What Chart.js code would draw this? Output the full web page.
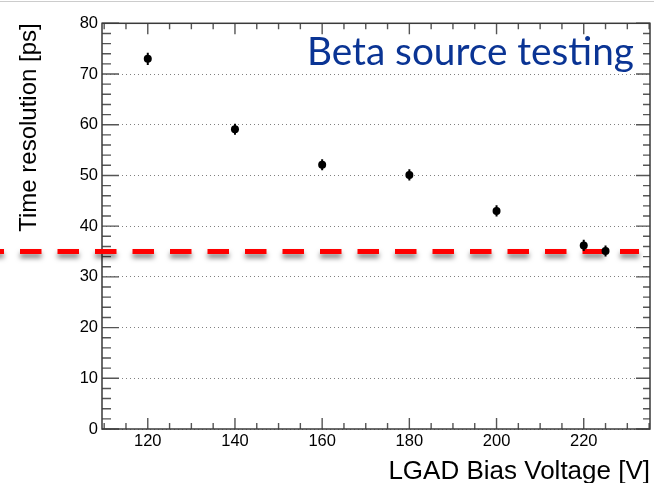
<!DOCTYPE html>
<html><head><meta charset="utf-8">
<script src="https://cdn.jsdelivr.net/npm/chart.js@4/dist/chart.umd.min.js"></script>
<style>html,body{margin:0;padding:0;background:#fff;} #wrap{width:654px;height:483px;position:relative;}</style>
</head><body><div id="wrap"><canvas id="c" width="654" height="483"></canvas></div>
<script>
// ---- data ----
const biasVoltages = [120, 140, 160, 180, 200, 220, 225];
const timeResolution = [73.0, 59.1, 52.1, 50.1, 43.0, 36.2, 35.1];
const resolutionErrors = [1.2, 1.1, 1.1, 1.1, 1.1, 1.1, 1.1];
const xTickLabels = [120, 140, 160, 180, 200, 220];
const yTickLabels = [0, 10, 20, 30, 40, 50, 60, 70, 80];
const targetResolution = 35;
const annotationText = 'Beta source testing';
const xAxisTitle = 'LGAD Bias Voltage [V]';
const yAxisTitle = 'Time resolution [ps]';

const FONT = '"Liberation Sans", Arial, Helvetica, sans-serif';

const rootStyle = {
  id: 'rootStyle',
  beforeDraw(chart) {
    const ctx = chart.ctx;
    ctx.save();
    ctx.fillStyle = '#fff';
    ctx.fillRect(0, 0, chart.width, chart.height);
    ctx.fillStyle = '#cccccc';
    ctx.fillRect(0, 1, chart.width, 1);
    ctx.restore();
  },
  beforeDatasetsDraw(chart) {
    const ctx = chart.ctx;
    const xs = chart.scales.x, ys = chart.scales.y;
    const {left, right, top, bottom} = chart.chartArea;
    ctx.save();
    // ticks
    ctx.strokeStyle = '#555';
    ctx.lineWidth = 1.4;
    ctx.beginPath();
    for (let v = Math.ceil(ys.min); v <= ys.max; v += 2) {
      const y = ys.getPixelForValue(v);
      const major = v % 10 === 0;
      ctx.moveTo(left, y); ctx.lineTo(left + (major ? 17 : 9), y);
      ctx.moveTo(right, y); ctx.lineTo(right - (major ? 14 : 7), y);
    }
    for (let v = Math.ceil(xs.min / 5) * 5; v <= xs.max; v += 5) {
      const x = xs.getPixelForValue(v);
      const major = v % 20 === 0;
      ctx.moveTo(x, bottom); ctx.lineTo(x, bottom - (major ? 11 : 6));
      ctx.moveTo(x, top); ctx.lineTo(x, top + (major ? 11 : 6));
    }
    ctx.stroke();
    // frame
    ctx.strokeStyle = '#3a3a3a';
    ctx.lineWidth = 1.5;
    ctx.strokeRect(left, top, right - left, bottom - top);
    ctx.restore();

    // red target line with shadow
    const yT = ys.getPixelForValue(targetResolution);
    ctx.save();
    ctx.strokeStyle = '#ff0000';
    ctx.lineWidth = 5;
    ctx.setLineDash([21.5, 16]);
    ctx.shadowColor = 'rgba(0,0,0,0.5)';
    ctx.shadowBlur = 5;
    ctx.shadowOffsetY = 4;
    ctx.beginPath();
    ctx.moveTo(-17.5, yT);
    ctx.lineTo(right - 11, yT);
    ctx.stroke();
    ctx.restore();

    // error bars
    ctx.save();
    ctx.strokeStyle = '#000';
    ctx.lineWidth = 2;
    ctx.beginPath();
    biasVoltages.forEach((v, i) => {
      const x = xs.getPixelForValue(v);
      ctx.moveTo(x, ys.getPixelForValue(timeResolution[i] - resolutionErrors[i]));
      ctx.lineTo(x, ys.getPixelForValue(timeResolution[i] + resolutionErrors[i]));
    });
    ctx.stroke();
    ctx.restore();
  },
  afterDraw(chart) {
    const ctx = chart.ctx;
    const {right, top} = chart.chartArea;
    ctx.save();
    let size = 35;
    ctx.font = size + 'px Lato';
    const w = ctx.measureText(annotationText).width;
    size = size * 327 / w;
    ctx.font = size.toFixed(2) + 'px Lato';
    ctx.fillStyle = '#0a3494';
    ctx.textAlign = 'right';
    ctx.textBaseline = 'alphabetic';
    ctx.fillText(annotationText, right - 16, top + 42);
    ctx.restore();
  }
};

new Chart(document.getElementById('c'), {
  type: 'scatter',
  data: {
    datasets: [{
      data: biasVoltages.map((v, i) => ({x: v, y: timeResolution[i]})),
      pointRadius: 4,
      pointBackgroundColor: '#000',
      pointBorderWidth: 0,
      showLine: false
    }]
  },
  options: {
    responsive: false,
    animation: false,
    devicePixelRatio: 1,
    events: [],
    layout: {padding: {top: 23.3, right: 3, left: 0, bottom: 0}},
    plugins: {legend: {display: false}, tooltip: {enabled: false}},
    scales: {
      x: {
        type: 'linear',
        min: 109.5,
        max: 235.2,
        afterBuildTicks: s => { s.ticks = xTickLabels.map(v => ({value: v})); },
        afterFit: s => { s.height = 54; },
        grid: {display: false, drawTicks: false},
        border: {display: false},
        ticks: {font: {family: FONT, size: 16.5}, color: '#000', padding: 3, maxRotation: 0, autoSkip: false},
        title: {display: true, text: xAxisTitle, align: 'end', color: '#000',
                font: {family: FONT, size: 26, lineHeight: 0.85}, padding: 0}
      },
      y: {
        type: 'linear',
        min: 0,
        max: 80,
        afterBuildTicks: s => { s.ticks = yTickLabels.map(v => ({value: v})); },
        afterFit: s => { s.width = 102; },
        grid: {display: true, drawTicks: false, color: '#808080', lineWidth: 1},
        border: {display: false, dash: [1, 3]},
        ticks: {font: {family: FONT, size: 16.5}, color: '#000', padding: 4},
        title: {display: true, text: yAxisTitle, align: 'end', color: '#000',
                font: {family: FONT, size: 24, lineHeight: 1.2}, padding: {top: 15, bottom: 0}}
      }
    }
  },
  plugins: [rootStyle]
});
</script>
</body></html>
